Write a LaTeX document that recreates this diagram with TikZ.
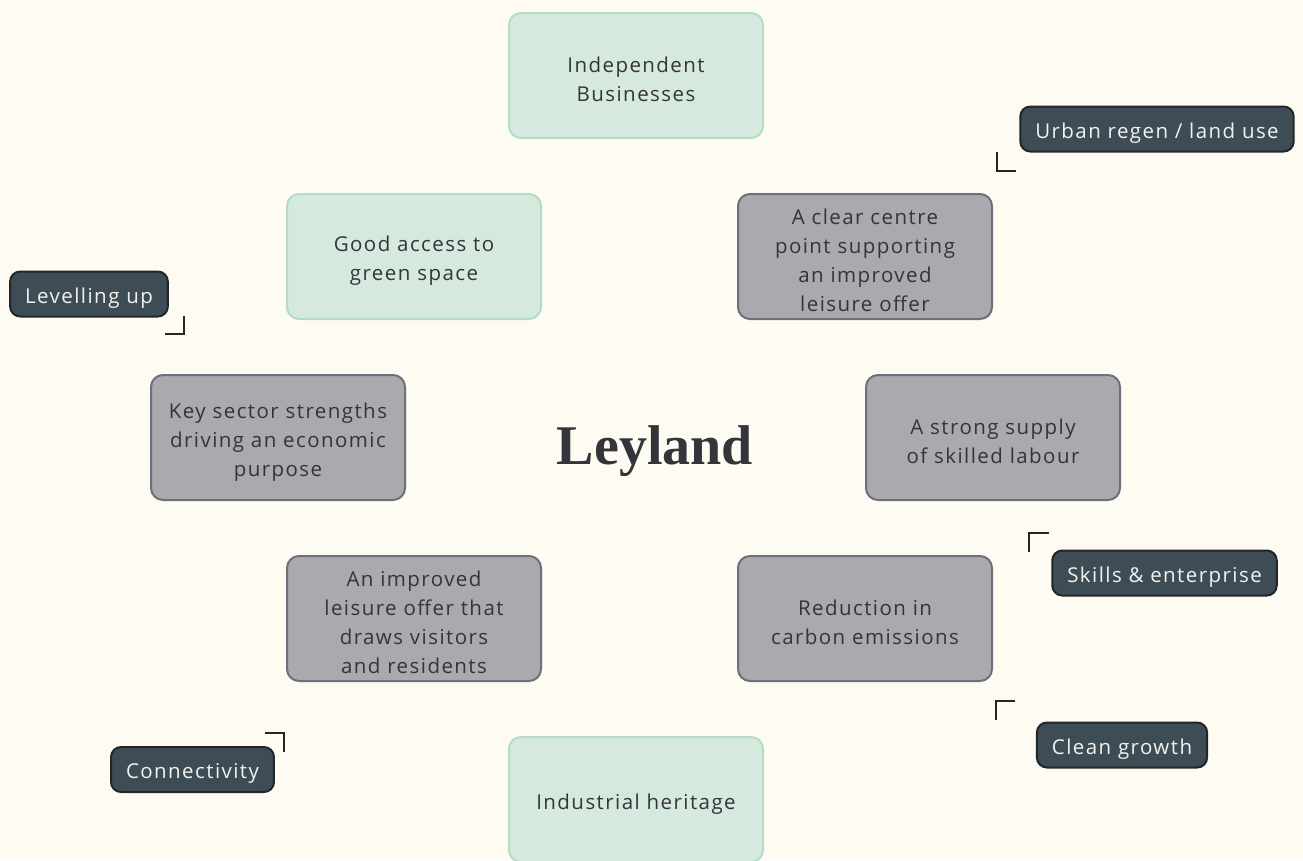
\documentclass[tikz,border=0pt]{standalone}
\usepackage{fontspec}
\setmainfont{Open Sans}[LetterSpace=7]
\newfontfamily\titlefont{Liberation Serif}
\usetikzlibrary{positioning}
\definecolor{Paper}{HTML}{FEFBF2}
\definecolor{Ink}{HTML}{333538}
\definecolor{Mint}{HTML}{D6E9DF}
\definecolor{MintEdge}{HTML}{B4DCC3}
\definecolor{Stone}{HTML}{A9A9AE}
\definecolor{StoneEdge}{HTML}{6C707A}
\definecolor{Slate}{HTML}{3D4C55}
\definecolor{SlateEdge}{HTML}{222628}
\definecolor{TagText}{HTML}{F2F2F0}
\tikzset{
  theme/.style={
    rounded corners=12pt, line width=2pt, draw=MintEdge, fill=Mint,
    minimum width=254pt, minimum height=125pt, text width=240pt,
    align=center, text=Ink, font=\fontsize{20.5}{29}\selectfont,
    execute at begin node={\rule{0pt}{24pt}}
  },
  driver/.style={theme, draw=StoneEdge, fill=Stone},
  tag/.style={
    rounded corners=10pt, line width=2pt, draw=SlateEdge, fill=Slate,
    minimum height=45pt, inner xsep=15pt, text=TagText,
    font=\fontsize{20.5}{24}\selectfont,
    execute at begin node={\rule{0pt}{23pt}}
  },
  corner/.style={line width=2pt, draw=SlateEdge}
}
\begin{document}
\begin{tikzpicture}[x=1pt,y=-1pt]
  \fill[Paper] (0,0) rectangle (1303,860);
  \useasboundingbox (0,0) rectangle (1303,860);
  % place themes
  \node[theme] (indep) at (636,75.5) {Independent\\Businesses};
  \node[theme] (green) at (414,256.5) {Good access to\\green space};
  \node[driver] (centre) at (865,256.5) {A clear centre\\point supporting\\an improved\\leisure offer};
  \node[driver] (sector) at (278,437.5) {Key sector strengths\\driving an economic\\purpose};
  \node[driver] (labour) at (993,437.5) {A strong supply\\of skilled labour};
  \node[driver] (leisure) at (414,618.5) {An improved\\leisure offer that\\draws visitors\\and residents};
  \node[driver] (carbon) at (865,618.5) {Reduction in\\carbon emissions};
  \node[theme] (heritage) at (636,799.5) {Industrial heritage};
  \node[text=Ink,font=\titlefont\bfseries\fontsize{56}{56}\selectfont] (town) at (655,451) {Leyland};
  % tags
  \node[tag] (urban) at (1157,129) {Urban regen / land use};
  \node[tag] (level) at (89,294) {Levelling up};
  \node[tag] (skills) at (1164.5,573) {Skills \& enterprise};
  \node[tag] (clean) at (1122,745) {Clean growth};
  \node[tag] (connect) at (192.5,769.5) {Connectivity};
  % corner marks
  \draw[corner] (997,152) -- (997,171) -- (1016,171);
  \draw[corner] (184,316) -- (184,334) -- (165,334);
  \draw[corner] (1049,533) -- (1029,533) -- (1029,552);
  \draw[corner] (1015,701) -- (996,701) -- (996,720);
  \draw[corner] (265,733) -- (284,733) -- (284,752);
\end{tikzpicture}
\end{document}
